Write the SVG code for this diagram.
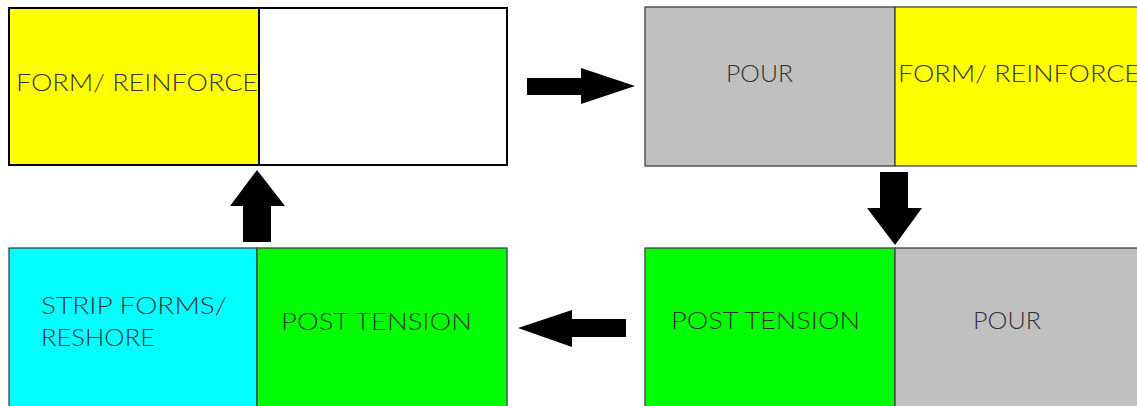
<svg xmlns="http://www.w3.org/2000/svg" width="1137" height="406" viewBox="0 0 1137 406">
<style>
.box{stroke:#404040;stroke-width:1.3}
.boxk{stroke:#000;stroke-width:2}
.lbl{font-family:Lato,"Liberation Sans",Arial,sans-serif;font-size:24px;fill:#333;font-weight:300}
.arrow{fill:#000}
</style>
<rect width="1137" height="406" fill="#fff"/>
<g id="step1">
<rect class="boxk" x="9" y="8" width="250" height="157" fill="#ffff00"/>
<rect class="boxk" x="259" y="8" width="248" height="157" fill="#ffffff"/>
<text class="lbl" x="16" y="91" textLength="242" lengthAdjust="spacingAndGlyphs">FORM/ REINFORCE</text>
</g>
<g id="step2">
<rect class="box" x="645" y="7" width="250" height="159" fill="#c0c0c0"/>
<rect class="box" x="895" y="7" width="250" height="159" fill="#ffff00"/>
<text class="lbl" x="726" y="82" textLength="67" lengthAdjust="spacingAndGlyphs">POUR</text>
<text class="lbl" x="898" y="82" textLength="242" lengthAdjust="spacingAndGlyphs">FORM/ REINFORCE</text>
</g>
<g id="step3">
<rect class="box" x="645" y="248" width="250" height="170" fill="#00ff00"/>
<rect class="box" x="895" y="248" width="250" height="170" fill="#c0c0c0"/>
<text class="lbl" x="671" y="329" textLength="189" lengthAdjust="spacingAndGlyphs">POST TENSION</text>
<text class="lbl" x="973" y="329" textLength="68" lengthAdjust="spacingAndGlyphs">POUR</text>
</g>
<g id="step4">
<rect class="box" x="9" y="248" width="248" height="170" fill="#00ffff"/>
<rect class="box" x="257" y="248" width="250" height="170" fill="#00ff00"/>
<text class="lbl" x="41" y="314" textLength="186" lengthAdjust="spacingAndGlyphs">STRIP FORMS/</text>
<text class="lbl" x="41" y="346" textLength="114" lengthAdjust="spacingAndGlyphs">RESHORE</text>
<text class="lbl" x="281" y="330" textLength="191" lengthAdjust="spacingAndGlyphs">POST TENSION</text>
</g>
<g id="connectors">
<polygon class="arrow" points="527,78 581,78 581,68 635,86 581,104 581,95 527,95"/>
<polygon class="arrow" points="880,172 908,172 908,208 922,208 895,245 867,208 880,208"/>
<polygon class="arrow" points="626,319 572,319 572,310 518,328 572,347 572,337 626,337"/>
<polygon class="arrow" points="243,242 271,242 271,206 285,206 257,170 230,206 243,206"/>
</g>
</svg>
